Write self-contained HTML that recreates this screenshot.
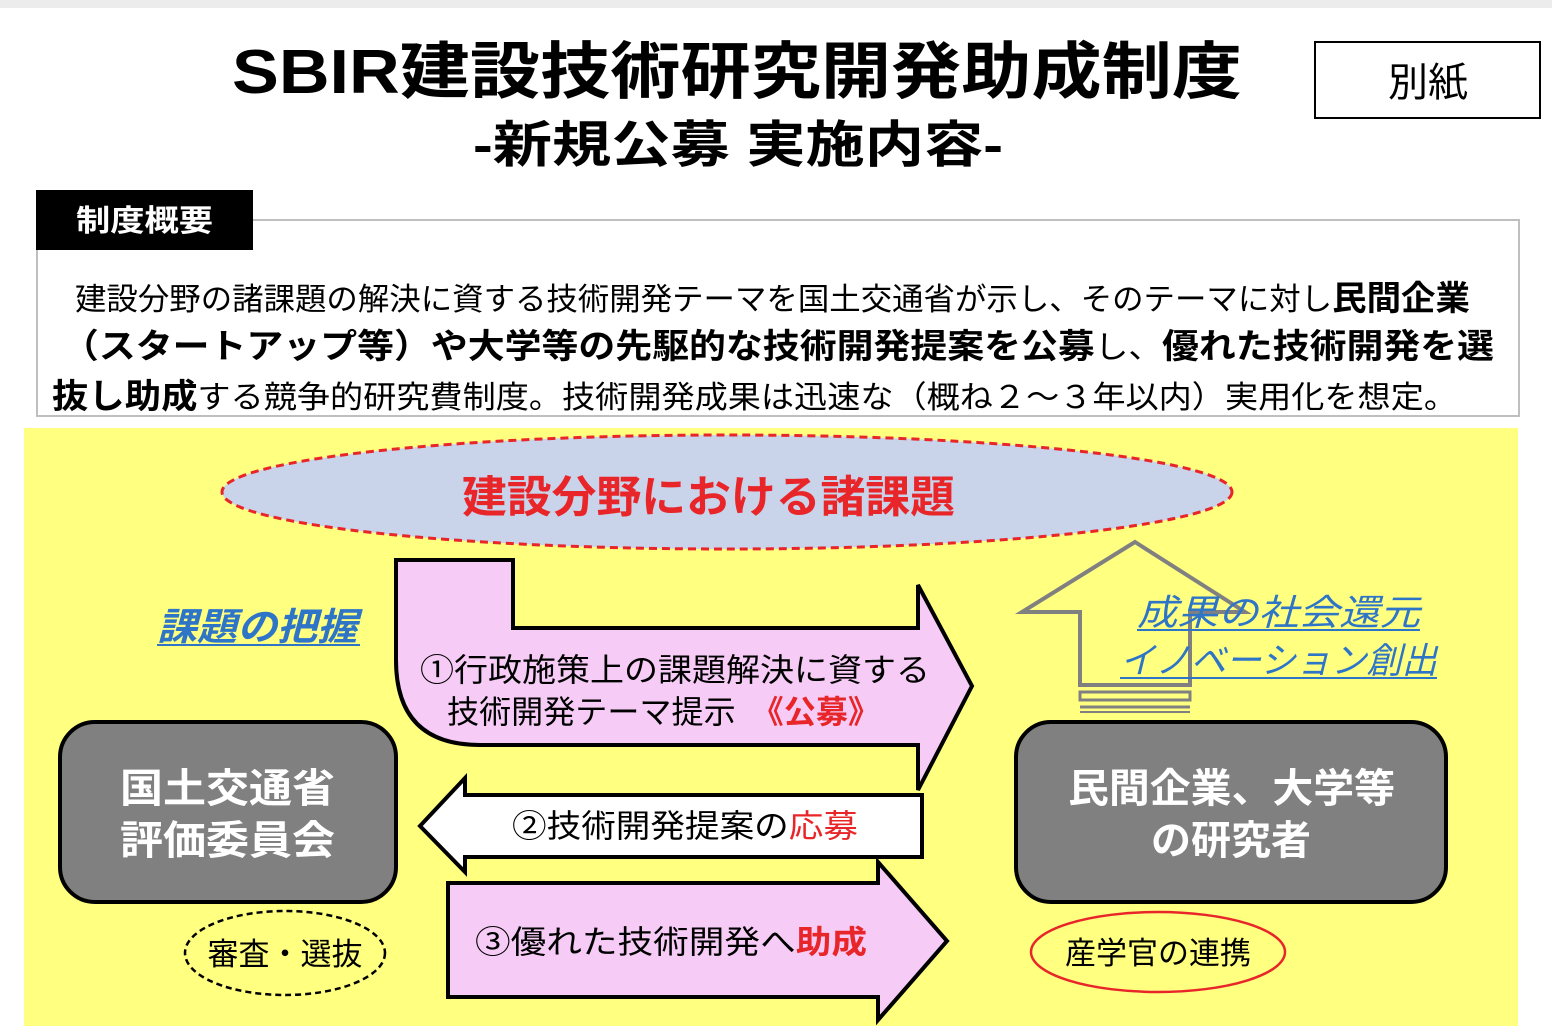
<!DOCTYPE html>
<html><head><meta charset="utf-8"><style>
body{margin:0;background:#fff;}
svg{display:block;font-family:"Liberation Sans","Noto Sans CJK JP",sans-serif;}
</style></head><body>
<svg width="1552" height="1032" viewBox="0 0 1552 1032" xmlns="http://www.w3.org/2000/svg">
<rect x="0" y="0" width="1552" height="8" fill="#ececec"/>
<text x="232" y="93" font-size="62" font-weight="bold" fill="#000" textLength="1010" lengthAdjust="spacingAndGlyphs">SBIR建設技術研究開発助成制度</text>
<text x="473" y="162" font-size="50" font-weight="bold" fill="#000" textLength="530" lengthAdjust="spacingAndGlyphs">-新規公募 実施内容-</text>
<rect x="1315" y="42" width="225" height="76" fill="#fff" stroke="#000" stroke-width="2"/>
<text x="1428" y="96" font-size="40" text-anchor="middle">別紙</text>

<rect x="37" y="220" width="1482" height="196" fill="#fff" stroke="#bfbfbf" stroke-width="2"/>
<rect x="36" y="190" width="217" height="60" fill="#000"/>
<text x="76" y="231" font-size="30" font-weight="bold" fill="#fff" textLength="137" lengthAdjust="spacingAndGlyphs">制度概要</text>
<text x="75" y="310" font-size="31" textLength="1395" lengthAdjust="spacingAndGlyphs">建設分野の諸課題の解決に資する技術開発テーマを国土交通省が示し、そのテーマに対し<tspan font-weight="bold" font-size="34">民間企業</tspan></text>
<text x="62" y="358" font-size="34" font-weight="bold" textLength="1432" lengthAdjust="spacingAndGlyphs">（スタートアップ等）や大学等の先駆的な技術開発提案を公募<tspan font-weight="normal" font-size="31">し、</tspan>優れた技術開発を選</text>
<text x="52" y="408" font-size="31" textLength="1405" lengthAdjust="spacingAndGlyphs"><tspan font-weight="bold" font-size="34">抜し助成</tspan>する競争的研究費制度。技術開発成果は迅速な（概ね２～３年以内）実用化を想定。</text>

<rect x="24" y="428" width="1494" height="598" fill="#ffff80"/>
<ellipse cx="727" cy="492" rx="505" ry="57" fill="#c9d3ea" stroke="#e8262a" stroke-width="3" stroke-dasharray="8,5"/>
<text x="462" y="512" font-size="44" font-weight="bold" fill="#e8262a" textLength="493" lengthAdjust="spacingAndGlyphs">建設分野における諸課題</text>

<path d="M396,560 L513,560 L513,628 L918,628 L918,585 L972,686 L918,790 L918,745 L480,745 Q396,745 396,660 Z" fill="#f6ccf6" stroke="#000" stroke-width="4"/>
<text x="420" y="681" font-size="32" textLength="510" lengthAdjust="spacingAndGlyphs">①行政施策上の課題解決に資する</text>
<text x="447" y="723" font-size="32" textLength="433" lengthAdjust="spacingAndGlyphs">技術開発テーマ提示　<tspan fill="#e8262a" font-weight="bold">《公募》</tspan></text>

<path d="M420,826 L465,778 L465,795 L922,795 L922,857 L465,857 L465,872 Z" fill="#fff" stroke="#000" stroke-width="4"/>
<text x="512" y="837" font-size="32" textLength="346" lengthAdjust="spacingAndGlyphs">②技術開発提案の<tspan fill="#e8262a">応募</tspan></text>

<path d="M448,883 L878,883 L878,862 L947,941 L878,1020 L878,997 L448,997 Z" fill="#f6ccf6" stroke="#000" stroke-width="4"/>
<text x="475" y="953" font-size="32" textLength="392" lengthAdjust="spacingAndGlyphs">③優れた技術開発へ<tspan fill="#e8262a" font-weight="bold">助成</tspan></text>

<rect x="60" y="722" width="336" height="180" rx="35" fill="#808080" stroke="#000" stroke-width="4"/>
<text x="120" y="802" font-size="40" font-weight="bold" fill="#fff" textLength="215" lengthAdjust="spacingAndGlyphs">国土交通省</text>
<text x="120" y="854" font-size="40" font-weight="bold" fill="#fff" textLength="215" lengthAdjust="spacingAndGlyphs">評価委員会</text>
<rect x="1016" y="722" width="430" height="180" rx="35" fill="#808080" stroke="#000" stroke-width="4"/>
<text x="1068" y="802" font-size="40" font-weight="bold" fill="#fff" textLength="327" lengthAdjust="spacingAndGlyphs">民間企業、大学等</text>
<text x="1231" y="854" font-size="40" font-weight="bold" fill="#fff" text-anchor="middle">の研究者</text>

<ellipse cx="285" cy="953" rx="100" ry="42" fill="none" stroke="#000" stroke-width="2.5" stroke-dasharray="6,4"/>
<text x="285" y="965" font-size="31" text-anchor="middle">審査・選抜</text>
<ellipse cx="1158" cy="952" rx="127" ry="40" fill="none" stroke="#e8262a" stroke-width="2.5"/>
<text x="1158" y="964" font-size="31" text-anchor="middle">産学官の連携</text>

<text x="157" y="640" font-size="38" font-weight="bold" font-style="italic" fill="#2e75c8" textLength="200" lengthAdjust="spacingAndGlyphs">課題の把握</text>
<line x1="157" y1="645" x2="360" y2="645" stroke="#2e75c8" stroke-width="2"/>

<path d="M1135,542 L1022,612 L1080,612 L1080,685 L1190,685 L1190,612 L1245,612 Z" fill="none" stroke="#808080" stroke-width="4"/>
<rect x="1080" y="692" width="110" height="8" fill="none" stroke="#808080" stroke-width="3"/>
<line x1="1080" y1="707" x2="1190" y2="707" stroke="#808080" stroke-width="3"/>
<line x1="1080" y1="712" x2="1190" y2="712" stroke="#808080" stroke-width="2"/>
<text x="1137" y="625" font-size="36" font-style="italic" fill="#2e75c8" textLength="283" lengthAdjust="spacingAndGlyphs">成果の社会還元</text>
<line x1="1137" y1="630" x2="1420" y2="630" stroke="#2e75c8" stroke-width="2"/>
<text x="1120" y="673" font-size="36" font-style="italic" fill="#2e75c8" textLength="317" lengthAdjust="spacingAndGlyphs">イノベーション創出</text>
<line x1="1120" y1="678" x2="1437" y2="678" stroke="#2e75c8" stroke-width="2"/>
</svg>
</body></html>
